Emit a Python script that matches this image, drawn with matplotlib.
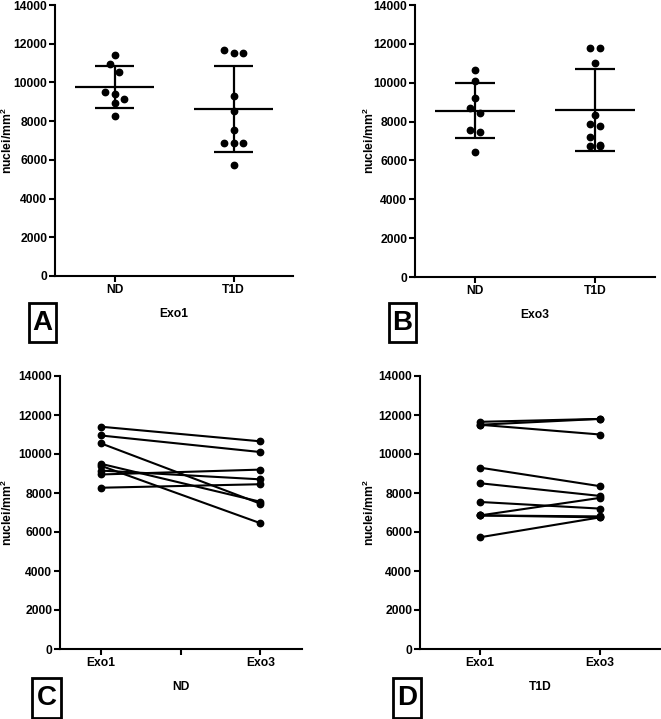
import numpy as np
import matplotlib
matplotlib.use("Agg")
import matplotlib.pyplot as plt
from matplotlib.patches import Rectangle

plt.rcParams['font.family'] = ['Liberation Sans', 'DejaVu Sans']
plt.rcParams['font.weight'] = 'bold'
plt.rcParams['mathtext.fontset'] = 'custom'
plt.rcParams['mathtext.rm'] = 'Liberation Sans:bold'
plt.rcParams['mathtext.it'] = 'Liberation Sans:bold'
plt.rcParams['mathtext.bf'] = 'Liberation Sans:bold'

# --- datos (nuclei/mm2) ---
groups = ["ND", "T1D"]
times = ["Exo1", "Exo3"]
nd_exo1 = [11400, 10950, 10550, 9500, 9400, 9150, 8950, 8270]
nd_exo3 = [10650, 10100, 7450, 7550, 6450, 8700, 9200, 8450]
t1d_exo1 = [11650, 11500, 11500, 9300, 8500, 7540, 6850, 6850, 6850, 5730]
t1d_exo3 = [11800, 11800, 11000, 8350, 7850, 7200, 7750, 6800, 6750, 6750]
yticks = [0, 2000, 4000, 6000, 8000, 10000, 12000, 14000]
ylabel = r'nuclei/mm$^{2}$'

FS = 8.7
W, H = 661, 719
fig = plt.figure(figsize=(W / 100, H / 100), dpi=100)


def add_ax(left, top, right, bottom):
    return fig.add_axes([left / W, 1 - bottom / H, (right - left) / W, (bottom - top) / H])


def style(ax, ylab_x):
    for s in ['top', 'right']:
        ax.spines[s].set_visible(False)
    for s in ['left', 'bottom']:
        ax.spines[s].set_linewidth(1.5)
    ax.set_ylim(0, 14000)
    ax.set_yticks(yticks)
    ax.tick_params(width=1.5, length=4, labelsize=FS, pad=1.5)
    ax.set_ylabel(ylabel, fontsize=FS, fontweight='bold')
    ax.yaxis.set_label_coords(ylab_x, 0.5)


def swarm_offsets(vals, thr=420, step=0.084):
    # agrupa puntos cercanos en filas y los reparte horizontalmente
    order = np.argsort(vals)[::-1]
    offs = np.zeros(len(vals))
    row = []
    start = None
    rows = []
    for i in order:
        if start is None or start - vals[i] > thr:
            if row:
                rows.append(row)
            row = [i]
            start = vals[i]
        else:
            row.append(i)
    rows.append(row)
    for r in rows:
        n = len(r)
        for k, i in enumerate(r):
            offs[i] = (k - (n - 1) / 2) * step
    return offs


def scatter_panel(ax, data_list, xlabel, ylab_x):
    for xi, vals in enumerate(data_list):
        vals = np.array(vals, dtype=float)
        offs = swarm_offsets(vals)
        ax.plot(xi + offs, vals, 'o', color='black', markersize=4.6, zorder=3)
        m = vals.mean()
        sd = vals.std(ddof=1)
        ax.hlines(m, xi - 0.335, xi + 0.335, color='black', lw=1.6)
        ax.hlines([m - sd, m + sd], xi - 0.165, xi + 0.165, color='black', lw=1.6)
        ax.vlines(xi, m - sd, m + sd, color='black', lw=1.6)
    ax.set_xlim(-0.5, 1.5)
    ax.set_xticks([0, 1])
    ax.set_xticklabels(groups)
    ax.set_xlabel(xlabel, fontsize=FS, fontweight='bold', labelpad=9)
    style(ax, ylab_x)


def paired_panel(ax, before, after, xlabel, xlim, ticks, ylab_x):
    for a, b in zip(before, after):
        ax.plot([0, 1], [a, b], '-o', color='black', lw=1.5, markersize=4.6)
    ax.set_xlim(*xlim)
    ax.set_xticks(ticks)
    ax.set_xticklabels([times[0]] + [''] * (len(ticks) - 2) + [times[1]])
    ax.set_xlabel(xlabel, fontsize=FS, fontweight='bold', labelpad=9)
    style(ax, ylab_x)


axA = add_ax(55, 5, 293, 276)
scatter_panel(axA, [nd_exo1, t1d_exo1], "Exo1", -0.168)
axB = add_ax(415, 5, 655, 277)
scatter_panel(axB, [nd_exo3, t1d_exo3], "Exo3", -0.158)
axC = add_ax(60, 376, 302, 649)
paired_panel(axC, nd_exo1, nd_exo3, "ND", (-0.255, 1.26), [0, 0.5, 1], -0.186)
axD = add_ax(420, 376, 660, 649)
paired_panel(axD, t1d_exo1, t1d_exo3, "T1D", (-0.5, 1.5), [0, 1], -0.179)

# letras de panel con recuadro
for letter, (x0, y0, x1, y1) in zip("ABCD", [(29, 303, 56, 342), (389, 303, 416, 342),
                                            (32, 678, 61, 718), (393, 678, 421, 718)]):
    fig.patches.append(Rectangle((x0 / W, 1 - y1 / H), (x1 - x0) / W, (y1 - y0) / H,
                                 transform=fig.transFigure, fill=False, lw=2, edgecolor='black'))
    fig.text((x0 + x1) / 2 / W, 1 - (y0 + y1) / 2 / H, letter, fontsize=20, fontweight='bold',
             ha='center', va='center')

fig.savefig("out.png", dpi=100)
